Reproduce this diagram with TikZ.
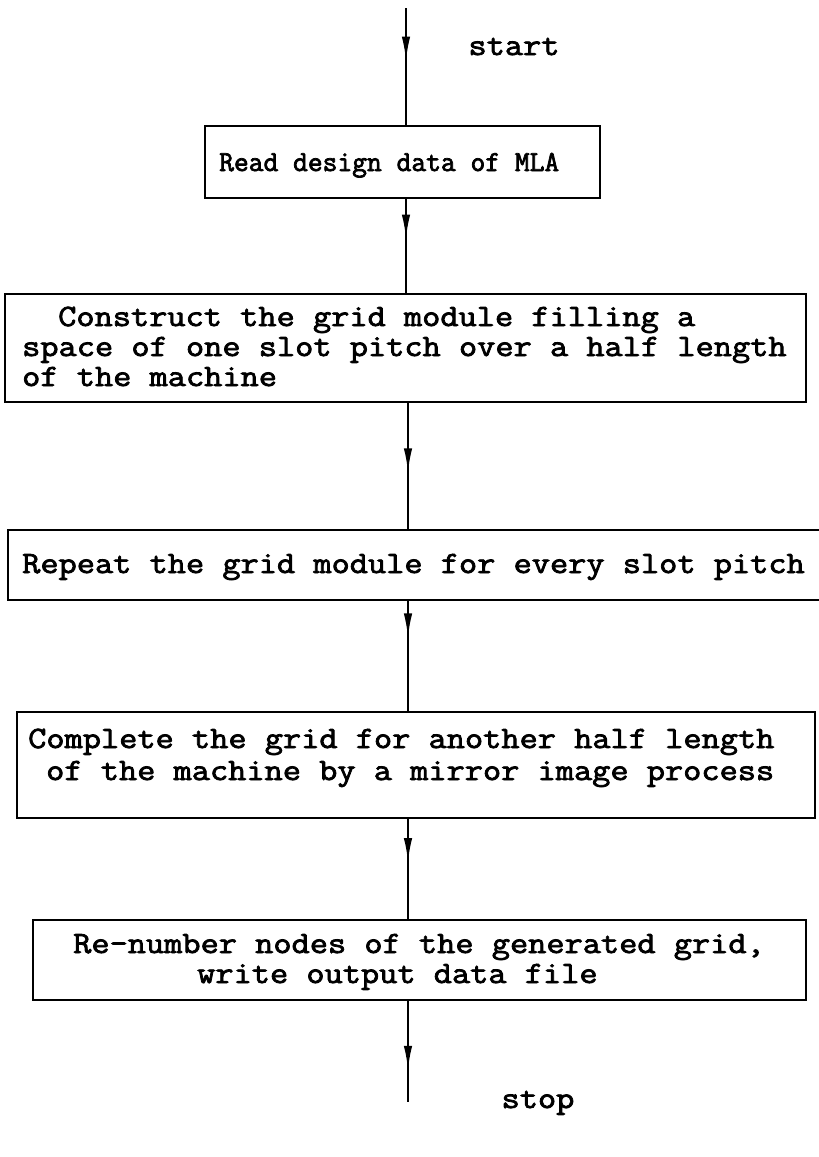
\documentclass[tikz,border=0pt]{standalone}
\usepackage{fontspec}
\newfontfamily\tw{Latin Modern Mono}[FakeBold=2.5,FakeStretch=1.14]
\newfontfamily\twn{Latin Modern Mono}[FakeBold=2.5,FakeStretch=0.99]
\usetikzlibrary{arrows.meta,decorations.markings}
\tikzset{
  boxstyle/.style={draw=black, line width=2.4pt, inner sep=0pt},
  txt/.style={font=\tw\fontsize{31}{30}\selectfont, inner sep=0pt, anchor=west,
    text height=17pt, text depth=5pt},
  smalltxt/.style={txt, font=\twn\fontsize{29}{30}\selectfont},
  flow/.style={line width=2pt, postaction={decorate},
    decoration={markings, mark=at position #1 with {\arrow{Latex[length=24pt,width=8.5pt]}}}},
}
\begin{document}
\begin{tikzpicture}[x=1pt,y=-1pt]
\useasboundingbox (0,0) rectangle (819,1157);
\coordinate (top) at (406,8);
\coordinate (bot) at (408,1102);
% boxes
\node[boxstyle, minimum width=395pt, minimum height=72pt] (b1) at (402.5,162) {};
\node[boxstyle, minimum width=801pt, minimum height=108pt] (b2) at (405.5,348) {};
\node[boxstyle, minimum width=830pt, minimum height=70pt] (b3) at (423,565) {};
\node[boxstyle, minimum width=798pt, minimum height=106pt] (b4) at (416,765) {};
\node[boxstyle, minimum width=773pt, minimum height=80pt] (b5) at (419.5,960) {};
% texts
\node[smalltxt] (t1) at (219,165) {Read design data of MLA};
\node[txt] (t2a) at (58,320) {Construct the grid module filling a};
\node[txt] (t2b) at (22,350) {space of one slot pitch over a half length};
\node[txt] (t2c) at (22,380) {of the machine};
\node[txt] (t3) at (22,567) {Repeat the grid module for every slot pitch};
\node[txt] (t4a) at (28,742) {Complete the grid for another half length};
\node[txt] (t4b) at (46,774) {of the machine by a mirror image process};
\node[txt] (t5a) at (73,947) {Re-number nodes of the generated grid,};
\node[txt] (t5b) at (197,977) {write output data file};
\node[txt, anchor=center] (start) at (514,49) {start};
\node[txt, anchor=center] (stop) at (538,1102) {stop};
% connectors
\draw[flow=0.45] (top) -- (b1.north -| top);
\draw[flow=0.42] (b1.south -| top) -- (b2.north -| top);
\draw[flow=0.55] (b2.south -| bot) -- (b3.north -| bot);
\draw[flow=0.33] (b3.south -| bot) -- (b4.north -| bot);
\draw[flow=0.43] (b4.south -| bot) -- (b5.north -| bot);
\draw[flow=0.68] (b5.south -| bot) -- (bot);
\end{tikzpicture}
\end{document}
